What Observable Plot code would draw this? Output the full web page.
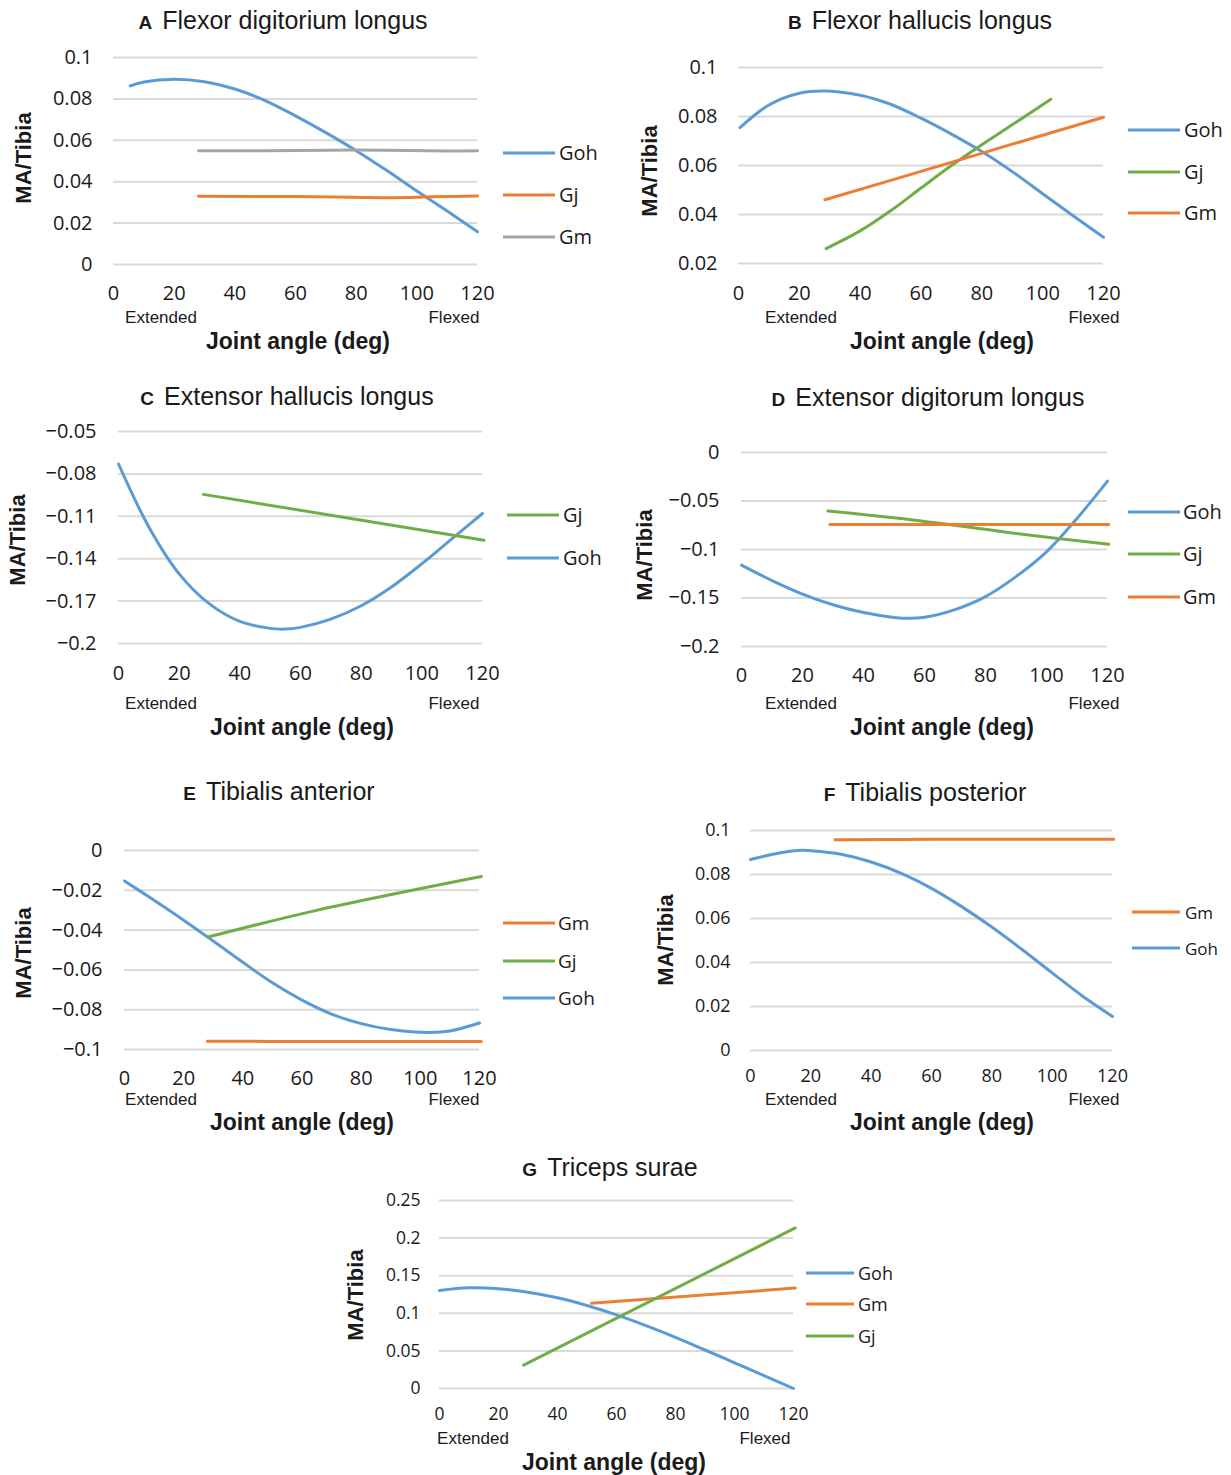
<!DOCTYPE html>
<html><head><meta charset="utf-8">
<script src="https://cdn.jsdelivr.net/npm/d3@7"></script>
<script src="https://cdn.jsdelivr.net/npm/@observablehq/plot@0.6"></script>
<style>
body{margin:0;background:#fff;}
#fig{position:relative;width:1231px;height:1475px;overflow:hidden;background:#fff;color:#1a1a1a;}
.t{position:absolute;white-space:nowrap;transform:translate(-50%,-50%);line-height:1;}
.title{font-family:"Liberation Sans",Arial,sans-serif;font-size:25px;}
.title b{font-size:19px;margin-right:10px;}
.state{font-family:"Liberation Sans Narrow","Liberation Sans",Arial,sans-serif;font-size:17px;}
.xl{font-family:"Liberation Sans",Arial,sans-serif;font-weight:bold;font-size:23px;}
.yl{font-family:"Liberation Sans",Arial,sans-serif;font-weight:bold;font-size:22px;transform:translate(-50%,-50%) rotate(-90deg);}
.lg{position:absolute;white-space:nowrap;font-family:"Open Sans",sans-serif;line-height:1;transform:translateY(-50%);}
.lgline{position:absolute;height:3px;transform:translateY(-50%);}
svg{position:absolute;}
</style></head><body><div id="fig"></div><script>
// ---------- data ----------
const angleTicks = [0, 20, 40, 60, 80, 100, 120];

// A  Flexor digitorium longus
const A_yTicks = [0, 0.02, 0.04, 0.06, 0.08, 0.1];
const A_Goh_angle = [5.5, 10, 20, 30, 40, 50, 60, 70, 80, 90, 100, 110, 120];
const A_Goh_ma    = [0.0863, 0.0882, 0.0895, 0.0883, 0.0848, 0.0792, 0.0718, 0.0637, 0.0550, 0.0455, 0.0355, 0.0258, 0.0158];
const A_Gj_angle  = [28, 60, 90, 105, 120];
const A_Gj_ma     = [0.0330, 0.0328, 0.0323, 0.0327, 0.0331];
const A_Gm_angle  = [28, 50, 80, 110, 120];
const A_Gm_ma     = [0.0549, 0.0550, 0.0553, 0.0548, 0.0549];

// B  Flexor hallucis longus
const B_yTicks = [0.02, 0.04, 0.06, 0.08, 0.1];
const B_Goh_angle = [0.5, 10, 20, 28, 40, 50, 60, 70, 80, 90, 100, 110, 120];
const B_Goh_ma    = [0.0755, 0.0847, 0.0895, 0.0904, 0.0887, 0.0850, 0.0793, 0.0728, 0.0657, 0.0575, 0.0485, 0.0395, 0.0307];
const B_Gj_angle  = [28.8, 40, 50, 60, 70, 80, 90, 102.7];
const B_Gj_ma     = [0.0261, 0.0333, 0.0415, 0.0508, 0.0600, 0.0685, 0.0766, 0.0870];
const B_Gm_angle  = [28.4, 60, 90, 120];
const B_Gm_ma     = [0.0460, 0.0576, 0.0687, 0.0797];

// C  Extensor hallucis longus
const C_yTicks = [-0.2, -0.17, -0.14, -0.11, -0.08, -0.05];
const C_Goh_angle = [0, 10, 20, 30, 40, 50, 55, 60, 70, 80, 90, 100, 110, 120];
const C_Goh_ma    = [-0.073, -0.1175, -0.1507, -0.172, -0.1844, -0.1893, -0.1898, -0.1886, -0.1828, -0.1733, -0.160, -0.1436, -0.1258, -0.108];
const C_Gj_angle  = [28, 120.5];
const C_Gj_ma     = [-0.0945, -0.127];

// D  Extensor digitorum longus
const D_yTicks = [-0.2, -0.15, -0.1, -0.05, 0];
const D_Goh_angle = [0, 10, 20, 30, 40, 50, 55, 60, 70, 80, 90, 100, 110, 120];
const D_Goh_ma    = [-0.1161, -0.132, -0.1459, -0.157, -0.165, -0.170, -0.1709, -0.1699, -0.162, -0.1486, -0.128, -0.1024, -0.068, -0.0295];
const D_Gj_angle  = [28.3, 50, 68, 90, 120.4];
const D_Gj_ma     = [-0.0603, -0.0673, -0.0743, -0.0835, -0.0945];
const D_Gm_angle  = [29, 120.4];
const D_Gm_ma     = [-0.0743, -0.0743];

// E  Tibialis anterior
const E_yTicks = [-0.1, -0.08, -0.06, -0.04, -0.02, 0];
const E_Goh_angle = [0, 10, 20, 30, 40, 50, 60, 70, 80, 90, 103, 110, 120];
const E_Goh_ma    = [-0.0153, -0.0250, -0.0350, -0.0455, -0.0562, -0.0665, -0.0752, -0.0822, -0.0870, -0.0899, -0.0914, -0.0907, -0.0867];
const E_Gj_angle  = [28.2, 64.6, 120.6];
const E_Gj_ma     = [-0.0435, -0.0302, -0.0131];
const E_Gm_angle  = [28, 60, 120.6];
const E_Gm_ma     = [-0.0958, -0.0960, -0.0960];

// F  Tibialis posterior
const F_yTicks = [0, 0.02, 0.04, 0.06, 0.08, 0.1];
const F_Goh_angle = [0, 10, 17, 20, 30, 40, 50, 60, 70, 80, 90, 100, 110, 120];
const F_Goh_ma    = [0.0868, 0.0899, 0.0910, 0.0908, 0.0892, 0.0857, 0.0805, 0.0737, 0.0654, 0.0561, 0.0459, 0.0353, 0.0248, 0.0155];
const F_Gm_angle  = [28, 60, 120.4];
const F_Gm_ma     = [0.0958, 0.0960, 0.0960];

// G  Triceps surae
const G_yTicks = [0, 0.05, 0.1, 0.15, 0.2, 0.25];
const G_Goh_angle = [0, 10, 20, 30, 40, 50, 60, 70, 80, 90, 100, 110, 120];
const G_Goh_ma    = [0.1303, 0.1339, 0.1326, 0.1281, 0.1206, 0.1103, 0.0979, 0.0836, 0.0680, 0.0512, 0.0342, 0.0172, 0.0];
const G_Gm_angle  = [51.5, 120.6];
const G_Gm_ma     = [0.1134, 0.1335];
const G_Gj_angle  = [28.5, 120.6];
const G_Gj_ma     = [0.031, 0.2135];

// ---------- styles ----------
const BLUE = "#5B9BD5", ORANGE = "#ED7D31", GRAY = "#A5A5A5", GREEN = "#70AD47";

function rows(list) {
  const out = [];
  for (const [name, xs, ys] of list) xs.forEach((x, i) => out.push({series: name, angle: x, ma: ys[i]}));
  return out;
}

const panels = [
  {letter: "A", name: "Flexor digitorium longus", yTicks: A_yTicks,
   data: rows([["Goh", A_Goh_angle, A_Goh_ma], ["Gj", A_Gj_angle, A_Gj_ma], ["Gm", A_Gm_angle, A_Gm_ma]]),
   colors: {Goh: BLUE, Gj: ORANGE, Gm: GRAY}, legend: ["Goh", "Gj", "Gm"],
   x0: 113, x1: 477, yt: 57, yb: 264, labR: 92, tickFs: 20, xPad: 21,
   title: [283, 20], state: [161, 454, 317], xl: [298, 341], yl: [24, 158],
   lg: {l0: 503, l1: 555, tx: 559, ys: [153, 195, 237], fs: 20}},
  {letter: "B", name: "Flexor hallucis longus", yTicks: B_yTicks,
   data: rows([["Goh", B_Goh_angle, B_Goh_ma], ["Gj", B_Gj_angle, B_Gj_ma], ["Gm", B_Gm_angle, B_Gm_ma]]),
   colors: {Goh: BLUE, Gj: GREEN, Gm: ORANGE}, legend: ["Goh", "Gj", "Gm"],
   x0: 738, x1: 1103, yt: 67, yb: 263, labR: 717, tickFs: 20, xPad: 22,
   title: [920, 20], state: [801, 1094, 317], xl: [942, 341], yl: [650, 171],
   lg: {l0: 1128, l1: 1180, tx: 1184, ys: [130, 172, 213], fs: 20}},
  {letter: "C", name: "Extensor hallucis longus", yTicks: C_yTicks,
   data: rows([["Goh", C_Goh_angle, C_Goh_ma], ["Gj", C_Gj_angle, C_Gj_ma]]),
   colors: {Goh: BLUE, Gj: GREEN}, legend: ["Gj", "Goh"],
   x0: 118, x1: 482, yt: 431, yb: 643, labR: 96, tickFs: 20, xPad: 22,
   title: [287, 396], state: [161, 454, 703], xl: [302, 727], yl: [18, 540],
   lg: {l0: 507, l1: 559, tx: 563, ys: [515, 558], fs: 20}},
  {letter: "D", name: "Extensor digitorum longus", yTicks: D_yTicks,
   data: rows([["Goh", D_Goh_angle, D_Goh_ma], ["Gj", D_Gj_angle, D_Gj_ma], ["Gm", D_Gm_angle, D_Gm_ma]]),
   colors: {Goh: BLUE, Gj: GREEN, Gm: ORANGE}, legend: ["Goh", "Gj", "Gm"],
   x0: 741, x1: 1107, yt: 452, yb: 646, labR: 719, tickFs: 20, xPad: 21,
   title: [928, 397], state: [801, 1094, 703], xl: [942, 727], yl: [645, 555],
   lg: {l0: 1128, l1: 1180, tx: 1183, ys: [512, 554, 597], fs: 20}},
  {letter: "E", name: "Tibialis anterior", yTicks: E_yTicks,
   data: rows([["Goh", E_Goh_angle, E_Goh_ma], ["Gj", E_Gj_angle, E_Gj_ma], ["Gm", E_Gm_angle, E_Gm_ma]]),
   colors: {Goh: BLUE, Gj: GREEN, Gm: ORANGE}, legend: ["Gm", "Gj", "Goh"],
   x0: 124, x1: 479, yt: 850, yb: 1049, labR: 102, tickFs: 20, xPad: 21,
   title: [279, 791], state: [161, 454, 1099], xl: [302, 1122], yl: [24, 953],
   lg: {l0: 503, l1: 555, tx: 558, ys: [923, 961, 998], fs: 19}},
  {letter: "F", name: "Tibialis posterior", yTicks: F_yTicks,
   data: rows([["Goh", F_Goh_angle, F_Goh_ma], ["Gm", F_Gm_angle, F_Gm_ma]]),
   colors: {Goh: BLUE, Gm: ORANGE}, legend: ["Gm", "Goh"],
   x0: 750, x1: 1112, yt: 830, yb: 1050, labR: 730, tickFs: 18, xPad: 19,
   title: [925, 792], state: [801, 1094, 1099], xl: [942, 1122], yl: [666, 940],
   lg: {l0: 1132, l1: 1180, tx: 1185, ys: [912, 948], fs: 17}},
  {letter: "G", name: "Triceps surae", yTicks: G_yTicks,
   data: rows([["Goh", G_Goh_angle, G_Goh_ma], ["Gm", G_Gm_angle, G_Gm_ma], ["Gj", G_Gj_angle, G_Gj_ma]]),
   colors: {Goh: BLUE, Gm: ORANGE, Gj: GREEN}, legend: ["Goh", "Gm", "Gj"],
   x0: 439, x1: 793, yt: 1200, yb: 1388, labR: 420, tickFs: 17.5, xPad: 19,
   title: [610, 1167], state: [473, 765, 1438], xl: [614, 1462], yl: [356, 1295],
   lg: {l0: 806, l1: 854, tx: 858, ys: [1273, 1304, 1336], fs: 18}}
];

const fig = document.getElementById("fig");
const fmt = d => (d < 0 ? "\u2212" : "") + String(Math.abs(d));

function addText(cls, html, x, y, extra) {
  const el = document.createElement("div");
  el.className = cls;
  el.innerHTML = html;
  el.style.left = x + "px";
  el.style.top = y + "px";
  if (extra) Object.assign(el.style, extra);
  fig.appendChild(el);
  return el;
}

for (const p of panels) {
  const ML = 90, MR = 20, MT = 15, MB = 45;
  const names = Object.keys(p.colors);
  const yd = [p.yTicks[0], p.yTicks[p.yTicks.length - 1]];
  const chart = Plot.plot({
    width: (p.x1 - p.x0) + ML + MR,
    height: (p.yb - p.yt) + MT + MB,
    marginLeft: ML, marginRight: MR, marginTop: MT, marginBottom: MB,
    style: {fontFamily: "'Open Sans', sans-serif", fontSize: p.tickFs + "px", color: "#1a1a1a", background: "transparent", overflow: "visible"},
    x: {domain: [0, 120], ticks: angleTicks, tickSize: 0, tickPadding: p.xPad, label: null},
    y: {domain: yd, ticks: p.yTicks, tickSize: 0, tickPadding: p.x0 - p.labR, tickFormat: fmt, label: null},
    color: {domain: names, range: names.map(n => p.colors[n])},
    marks: [
      Plot.gridY(p.yTicks, {stroke: "#d9d9d9", strokeOpacity: 1, strokeWidth: 2}),
      Plot.line(p.data, {x: "angle", y: "ma", z: "series", stroke: "series", strokeWidth: 3, curve: "catmull-rom"})
    ]
  });
  chart.style.left = (p.x0 - ML) + "px";
  chart.style.top = (p.yt - MT) + "px";
  fig.appendChild(chart);

  addText("t title", `<b>${p.letter}</b>${p.name}`, p.title[0], p.title[1]);
  addText("t state", "Extended", p.state[0], p.state[2]);
  addText("t state", "Flexed", p.state[1], p.state[2]);
  addText("t xl", "Joint angle (deg)", p.xl[0], p.xl[1]);
  addText("t yl", "MA/Tibia", p.yl[0], p.yl[1]);
  p.legend.forEach((n, i) => {
    const y = p.lg.ys[i];
    const ln = document.createElement("div");
    ln.className = "lgline";
    Object.assign(ln.style, {left: p.lg.l0 + "px", width: (p.lg.l1 - p.lg.l0) + "px", top: y + "px", background: p.colors[n]});
    fig.appendChild(ln);
    addText("lg", n, p.lg.tx, y, {fontSize: p.lg.fs + "px"});
  });
}
</script></body></html>
